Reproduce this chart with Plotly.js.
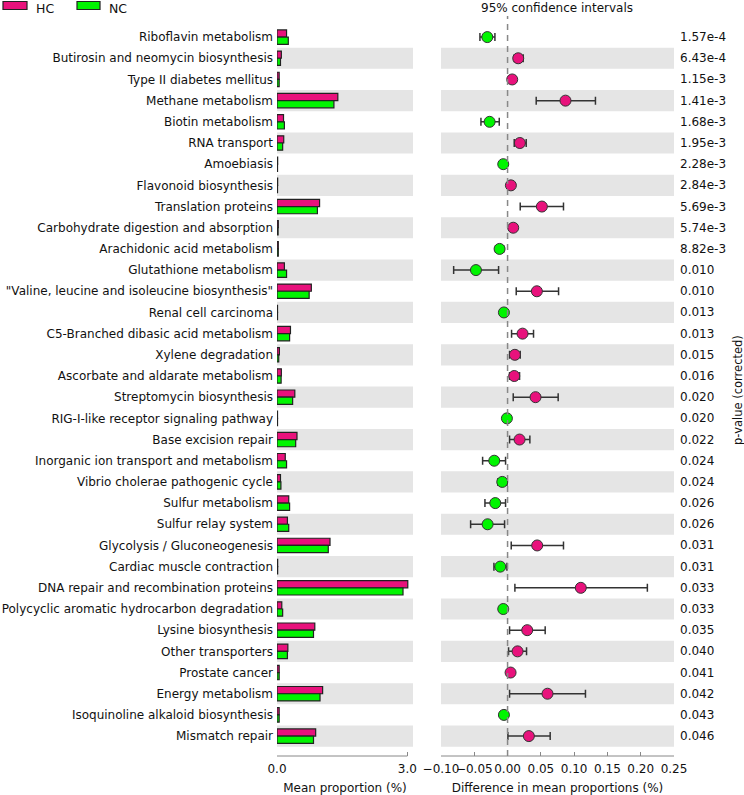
<!DOCTYPE html>
<html>
<head>
<meta charset="utf-8">
<script src="https://cdn.plot.ly/plotly-3.0.1.min.js"></script>
<style>
  html, body { margin: 0; padding: 0; background: #fff; }
  #chart { width: 744px; height: 795px; }
</style>
</head>
<body>
<div id="chart"></div>
<script>
// Pathways, top to bottom
const pathways = [
  "Riboflavin metabolism",
  "Butirosin and neomycin biosynthesis",
  "Type II diabetes mellitus",
  "Methane metabolism",
  "Biotin metabolism",
  "RNA transport",
  "Amoebiasis",
  "Flavonoid biosynthesis",
  "Translation proteins",
  "Carbohydrate digestion and absorption",
  "Arachidonic acid metabolism",
  "Glutathione metabolism",
  "\"Valine, leucine and isoleucine biosynthesis\"",
  "Renal cell carcinoma",
  "C5-Branched dibasic acid metabolism",
  "Xylene degradation",
  "Ascorbate and aldarate metabolism",
  "Streptomycin biosynthesis",
  "RIG-I-like receptor signaling pathway",
  "Base excision repair",
  "Inorganic ion transport and metabolism",
  "Vibrio cholerae pathogenic cycle",
  "Sulfur metabolism",
  "Sulfur relay system",
  "Glycolysis / Gluconeogenesis",
  "Cardiac muscle contraction",
  "DNA repair and recombination proteins",
  "Polycyclic aromatic hydrocarbon degradation",
  "Lysine biosynthesis",
  "Other transporters",
  "Prostate cancer",
  "Energy metabolism",
  "Isoquinoline alkaloid biosynthesis",
  "Mismatch repair"
];

// Mean proportion (%)
const meanHC = [0.22, 0.10, 0.05, 1.40, 0.15, 0.155, 0.015, 0.015, 0.98, 0.03, 0.03, 0.17,
  0.79, 0.012, 0.31, 0.055, 0.10, 0.41, 0.012, 0.46, 0.19, 0.08, 0.27, 0.24, 1.22, 0.015,
  3.01, 0.11, 0.87, 0.25, 0.05, 1.05, 0.05, 0.89];
const meanNC = [0.26, 0.08, 0.05, 1.31, 0.17, 0.13, 0.012, 0.012, 0.93, 0.025, 0.03, 0.22,
  0.74, 0.012, 0.29, 0.04, 0.095, 0.36, 0.012, 0.43, 0.22, 0.09, 0.29, 0.27, 1.18, 0.015,
  2.90, 0.13, 0.84, 0.24, 0.05, 0.99, 0.05, 0.84];

// Difference in mean proportions (%) with 95% CI
const diff = [-0.0305, 0.016, 0.007, 0.087, -0.027, 0.0185, -0.0065, 0.005, 0.0515, 0.0085,
  -0.012, -0.0475, 0.044, -0.0055, 0.0225, 0.011, 0.010, 0.042, -0.001, 0.018, -0.020,
  -0.008, -0.0185, -0.030, 0.0445, -0.011, 0.110, -0.0065, 0.0295, 0.015, 0.0045, 0.060,
  -0.0055, 0.032];
const ciLow = [-0.0415, 0.010, 0.005, 0.043, -0.040, 0.010, -0.008, 0.004, 0.019, 0.004,
  -0.018, -0.081, 0.013, -0.007, 0.006, 0.003, 0.003, 0.0085, -0.003, 0.003, -0.0375,
  -0.0145, -0.034, -0.0555, 0.0055, -0.0205, 0.011, -0.009, 0.003, 0.0015, 0.003, 0.003,
  -0.007, 0.0005];
const ciHigh = [-0.019, 0.0235, 0.009, 0.132, -0.0125, 0.028, -0.005, 0.006, 0.084, 0.012,
  -0.006, -0.0135, 0.0766, -0.004, 0.039, 0.019, 0.018, 0.076, 0.001, 0.0335, -0.003,
  -0.001, -0.003, -0.0045, 0.084, -0.001, 0.210, -0.004, 0.0565, 0.0285, 0.006, 0.117,
  -0.004, 0.064];

const pValues = ["1.57e-4", "6.43e-4", "1.15e-3", "1.41e-3", "1.68e-3", "1.95e-3", "2.28e-3",
  "2.84e-3", "5.69e-3", "5.74e-3", "8.82e-3", "0.010", "0.010", "0.013", "0.013", "0.015",
  "0.016", "0.020", "0.020", "0.022", "0.024", "0.024", "0.026", "0.026", "0.031", "0.031",
  "0.033", "0.033", "0.035", "0.040", "0.041", "0.042", "0.043", "0.046"];

const groups = ["HC", "NC"];
const colorHC = "#e8127c";
const colorNC = "#00f500";

const W = 744, H = 795;
const px = (x) => x / W;
const py = (y) => 1 - y / H;
const font = "DejaVu Sans, sans-serif";

// Bars for mean proportion
const barHC = {
  type: "bar", orientation: "h", name: groups[0],
  x: meanHC, y: pathways, xaxis: "x", yaxis: "y",
  marker: { color: colorHC, line: { color: "#222", width: 1.2 } },
  showlegend: false
};
const barNC = {
  type: "bar", orientation: "h", name: groups[1],
  x: meanNC, y: pathways, xaxis: "x", yaxis: "y",
  marker: { color: colorNC, line: { color: "#222", width: 1.2 } },
  showlegend: false
};

// Points with CI error bars
const ciTrace = {
  type: "scatter", mode: "markers",
  x: diff, y: pathways, xaxis: "x2", yaxis: "y",
  error_x: {
    type: "data", symmetric: false,
    array: diff.map((d, i) => ciHigh[i] - d),
    arrayminus: diff.map((d, i) => d - ciLow[i]),
    color: "#333", thickness: 1.5, width: 4
  },
  marker: {
    size: 11,
    color: diff.map((d) => (d > 0 ? colorHC : colorNC)),
    line: { color: "#333", width: 1 }
  },
  showlegend: false
};

// Alternate row shading in both panels
const shapes = [];
pathways.forEach((p, i) => {
  if (i % 2 === 1) {
    ["x domain", "x2 domain"].forEach((ref) => {
      shapes.push({
        type: "rect", xref: ref, yref: "y",
        x0: 0, x1: 1, y0: i - 0.5, y1: i + 0.5,
        fillcolor: "#e5e5e5", line: { width: 0 }, layer: "below"
      });
    });
  }
});

// Zero line in CI panel
shapes.push({
  type: "line", xref: "x2", yref: "paper",
  x0: 0, x1: 0, y0: py(756), y1: py(16),
  line: { color: "#888", width: 1.5, dash: "6px,5px" }
});

// Bottom spines (bounded to the tick range)
shapes.push({
  type: "line", xref: "x", yref: "paper",
  x0: 0, x1: 3, y0: py(756), y1: py(756),
  line: { color: "#888", width: 1 }
});
shapes.push({
  type: "line", xref: "x2", yref: "paper",
  x0: -0.10, x1: 0.25, y0: py(756), y1: py(756),
  line: { color: "#888", width: 1 }
});

// Legend boxes
shapes.push({
  type: "rect", xref: "paper", yref: "paper",
  x0: px(3), x1: px(27), y0: py(9.5), y1: py(1.5),
  fillcolor: colorHC, line: { color: "#222", width: 1.2 }
});
shapes.push({
  type: "rect", xref: "paper", yref: "paper",
  x0: px(77), x1: px(100), y0: py(9.5), y1: py(1.5),
  fillcolor: colorNC, line: { color: "#222", width: 1.2 }
});

const annotations = [];

pValues.forEach((p, i) => {
  annotations.push({
    xref: "paper", yref: "y", x: px(678), y: pathways[i],
    text: p, showarrow: false, xanchor: "left", yanchor: "middle",
    font: { family: font, size: 12, color: "#111" }
  });
});

annotations.push(
  {
    xref: "paper", yref: "paper", x: px(557), y: 1,
    text: "95% confidence intervals", showarrow: false,
    xanchor: "center", yanchor: "top", borderpad: 0,
    font: { family: font, size: 12, color: "#111" }
  },
  {
    xref: "paper", yref: "paper", x: px(738), y: py(390),
    text: "p-value (corrected)", showarrow: false, textangle: -90,
    xanchor: "center", yanchor: "middle",
    font: { family: font, size: 11.5, color: "#111" }
  },
  {
    xref: "paper", yref: "paper", x: px(35), y: 1,
    text: groups[0], showarrow: false, xanchor: "left", yanchor: "top", borderpad: 0,
    font: { family: font, size: 12.5, color: "#111" }
  },
  {
    xref: "paper", yref: "paper", x: px(108), y: 1,
    text: groups[1], showarrow: false, xanchor: "left", yanchor: "top", borderpad: 0,
    font: { family: font, size: 12.5, color: "#111" }
  }
);

const tickFont = { family: font, size: 12, color: "#111" };

const layout = {
  width: W, height: H,
  margin: { l: 0, r: 0, t: 0, b: 0 },
  paper_bgcolor: "#fff", plot_bgcolor: "rgba(0,0,0,0)",
  font: { family: font, color: "#111" },
  barmode: "group", bargap: 0.32, bargroupgap: 0,
  showlegend: false,
  xaxis: {
    domain: [px(277), px(413)], anchor: "y",
    range: [0, 3.13],
    tickvals: [0, 3], tickformat: ".1f", tickangle: 0,
    ticks: "inside", ticklen: 4, tickcolor: "#888", ticklabelstandoff: 4,
    showline: false, zeroline: false, showgrid: false,
    tickfont: tickFont, automargin: false,
    title: { text: "Mean proportion (%)", font: tickFont, standoff: 8 }
  },
  xaxis2: {
    domain: [px(441), px(674)], anchor: "y",
    range: [-0.10, 0.25],
    tickvals: [-0.10, -0.05, 0, 0.05, 0.10, 0.15, 0.20, 0.25], tickformat: ".2f", tickangle: 0,
    ticks: "inside", ticklen: 4, tickcolor: "#888", ticklabelstandoff: 4,
    showline: false, zeroline: false, showgrid: false,
    tickfont: tickFont, automargin: false,
    title: { text: "Difference in mean proportions (%)", font: tickFont, standoff: 8 }
  },
  yaxis: {
    domain: [py(756), py(26.5)], anchor: "x",
    type: "category", categoryorder: "array", categoryarray: pathways,
    range: [33.94, -0.5],
    ticks: "", showline: false, showgrid: false, zeroline: false,
    tickfont: tickFont, automargin: false, ticklabelstandoff: 3
  },
  shapes: shapes,
  annotations: annotations
};

Plotly.newPlot("chart", [barHC, barNC, ciTrace], layout, { displayModeBar: false, staticPlot: true });
</script>
</body>
</html>
